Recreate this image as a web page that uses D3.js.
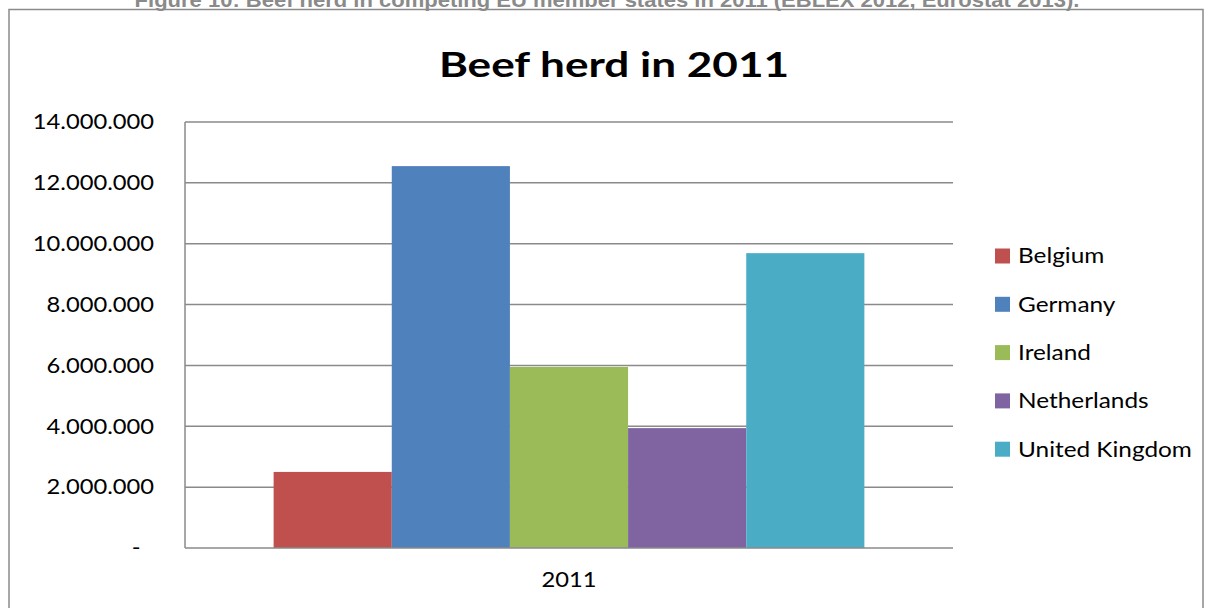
<!DOCTYPE html>
<html>
<head>
<meta charset="utf-8">
<script src="https://cdn.jsdelivr.net/npm/d3@7"></script>
<style>
  html, body { margin: 0; padding: 0; background: #fff; }
  svg { display: block; }
</style>
</head>
<body>
<svg id="chart" width="1208" height="608"></svg>
<script>
// Beef herd per country, 2011
const categories = ["2011"];
const countries = ["Belgium", "Germany", "Ireland", "Netherlands", "United Kingdom"];
const herd2011 = [2500000, 12550000, 5950000, 3940000, 9690000];
const colors = ["#C0504D", "#4F81BD", "#9BBB59", "#8064A2", "#4BACC6"];
const yTicks = [0, 2000000, 4000000, 6000000, 8000000, 10000000, 12000000, 14000000];

const svg = d3.select("#chart");
const plot = { left: 185, right: 953, top: 122, bottom: 548 };
const font = "Lato, 'Noto Sans', sans-serif";
const gridColor = "#8a8a8a";

// widen text horizontally about its anchor point
function stretch(sel, sx) {
  sel.each(function () {
    const t = d3.select(this);
    const x = +t.attr("x") || 0;
    t.attr("transform", `translate(${x * (1 - sx)},0) scale(${sx},1)`);
  });
}

// figure caption, partly cut off at the top edge
svg.append("text")
  .attr("x", 607).attr("y", 7)
  .attr("text-anchor", "middle")
  .attr("font-family", "'Liberation Sans', Arial, sans-serif")
  .attr("font-weight", "bold")
  .attr("font-size", 20)
  .attr("fill", "#8a8a8a")
  .text("Figure 10: Beef herd in competing EU member states in 2011 (EBLEX 2012, Eurostat 2013).")
  .call(stretch, 1.1);

// chart frame
svg.append("rect")
  .attr("x", 9).attr("y", 9.5)
  .attr("width", 1194).attr("height", 620)
  .attr("fill", "none")
  .attr("stroke", gridColor)
  .attr("stroke-width", 1.5);

// title
svg.append("text")
  .attr("x", 614).attr("y", 77)
  .attr("text-anchor", "middle")
  .attr("font-family", font)
  .attr("font-weight", "bold")
  .attr("font-size", 35)
  .attr("fill", "#000")
  .text("Beef herd in 2011")
  .call(stretch, 1.26);

const y = d3.scaleLinear().domain([0, 14000000]).range([plot.bottom, plot.top]);
const x0 = d3.scaleBand().domain(categories).range([plot.left, plot.right]).padding(0);
const x1 = d3.scaleBand().domain(countries).range([0, x0.bandwidth()])
  .paddingInner(0).paddingOuter(0.75);

const fmt = v => v === 0 ? "-" : d3.format(",")(v).replace(/,/g, ".");

// horizontal gridlines
svg.append("g")
  .selectAll("line")
  .data(yTicks.filter(d => d > 0))
  .join("line")
  .attr("x1", plot.left).attr("x2", plot.right)
  .attr("y1", d => y(d)).attr("y2", d => y(d))
  .attr("stroke", gridColor)
  .attr("stroke-width", 1.5);

// y axis labels
const yAxis = d3.axisLeft(y).tickValues(yTicks).tickFormat(fmt).tickSize(0).tickPadding(31);
const gy = svg.append("g").attr("transform", `translate(${plot.left},0)`).call(yAxis);
gy.select(".domain").remove();
gy.selectAll("text")
  .attr("font-family", font)
  .attr("font-size", 21)
  .attr("fill", "#000")
  .call(stretch, 1.13);
gy.selectAll(".tick")
  .filter(d => d === 0)
  .select("text")
  .attr("dx", -12);

// bars
svg.append("g")
  .selectAll("rect")
  .data(countries.map((c, i) => ({ country: c, value: herd2011[i], color: colors[i] })))
  .join("rect")
  .attr("x", d => x0("2011") + x1(d.country))
  .attr("width", x1.bandwidth())
  .attr("y", d => y(d.value))
  .attr("height", d => y(0) - y(d.value))
  .attr("fill", d => d.color);

// axis lines
svg.append("line")
  .attr("x1", plot.left).attr("x2", plot.left)
  .attr("y1", plot.top).attr("y2", plot.bottom)
  .attr("stroke", gridColor).attr("stroke-width", 1.5);
svg.append("line")
  .attr("x1", plot.left).attr("x2", plot.right)
  .attr("y1", plot.bottom).attr("y2", plot.bottom)
  .attr("stroke", gridColor).attr("stroke-width", 1.5);

// x axis category label
const xAxis = d3.axisBottom(x0).tickSize(0).tickPadding(24);
const gx = svg.append("g").attr("transform", `translate(0,${plot.bottom})`).call(xAxis);
gx.select(".domain").remove();
gx.selectAll("text")
  .attr("font-family", font)
  .attr("font-size", 21)
  .attr("fill", "#000")
  .call(stretch, 1.13);

// legend
const legend = svg.append("g")
  .selectAll("g")
  .data(countries)
  .join("g")
  .attr("transform", (d, i) => `translate(995,${256 + i * 48.3})`);
legend.append("rect")
  .attr("x", 0).attr("y", -7.5)
  .attr("width", 15).attr("height", 15)
  .attr("fill", (d, i) => colors[i]);
legend.append("text")
  .attr("x", 23).attr("y", 0)
  .attr("dy", "0.35em")
  .attr("font-family", font)
  .attr("font-size", 21)
  .attr("fill", "#000")
  .text(d => d)
  .call(stretch, 1.16);
</script>
</body>
</html>
